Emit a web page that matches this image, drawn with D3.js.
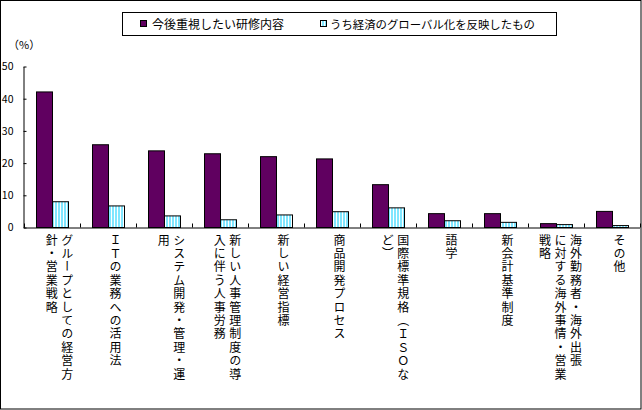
<!DOCTYPE html>
<html><head><meta charset="utf-8">
<script src="https://cdn.jsdelivr.net/npm/d3@7"></script>
<style>
body{margin:0;background:#fff}
svg{display:block}
text{font-family:"Noto Sans CJK JP","Noto Sans",sans-serif;fill:#000}
</style>
</head><body>
<svg id="chart" width="642" height="410"></svg>
<script>
// ---- data ----
const categories = [
  "グループとしての経営方\n針・営業戦略",
  "ＩＴの業務への活用法",
  "システム開発・管理・運\n用",
  "新しい人事管理制度の導\n入に伴う人事労務",
  "新しい経営指標",
  "商品開発プロセス",
  "国際標準規格（ＩＳＯな\nど）",
  "語学",
  "新会計基準制度",
  "海外勤務者・海外出張\nに対する海外事情・営業\n戦略",
  "その他"
];
const seriesNames = ["今後重視したい研修内容", "うち経済のグローバル化を反映したもの"];
const priorityValues = [42.1, 25.7, 23.8, 22.9, 22.0, 21.3, 13.3, 4.3, 4.3, 1.2, 5.0];
const globalValues   = [8.0, 6.7, 3.6, 2.4, 3.9, 4.9, 6.1, 2.1, 1.6, 0.9, 0.6];
const yTicks = [0, 10, 20, 30, 40, 50];
const yUnit = "（%）";

// ---- chart ----
const svg = d3.select("#chart");
const W = 642, H = 410;
const purple = "#600060", cyan = "#00CCFF";

svg.append("rect").attr("x", 0.5).attr("y", 0.5).attr("width", W - 1.5).attr("height", H - 1.5)
  .attr("fill", "#fff").attr("stroke", "#000");

const defs = svg.append("defs");
const pat = defs.append("pattern").attr("id", "stripe").attr("patternUnits", "userSpaceOnUse")
  .attr("width", 3).attr("height", 6).attr("x", 0.5);
pat.append("rect").attr("width", 3).attr("height", 6).attr("fill", "#fff");
pat.append("rect").attr("x", 1).attr("width", 1).attr("height", 6).attr("fill", cyan);

const x = d3.scaleBand().domain(categories).range([23.5, 639.5]).paddingInner(0).paddingOuter(0);
const xs = d3.scaleBand().domain([0, 1]).range([0, x.step()]).paddingInner(0).paddingOuter(0.75);
const y = d3.scaleLinear().domain([0, 50]).range([227.5, 66.5]);

const series = [priorityValues, globalValues];
const fills = [purple, "url(#stripe)"];

const g = svg.append("g");
series.forEach((vals, si) => {
  g.selectAll(null).data(vals).enter().append("rect")
    .attr("x", (d, i) => Math.round(x(categories[i]) + xs(si)) + 0.5)
    .attr("y", d => y(d))
    .attr("width", xs.bandwidth())
    .attr("height", d => y(0) - y(d))
    .attr("fill", fills[si])
    .attr("stroke", "#000").attr("stroke-width", 1);
});

// y axis
const yAxis = d3.axisLeft(y).tickValues(yTicks).tickSizeInner(-3).tickSizeOuter(0).tickPadding(10);
const ya = svg.append("g").attr("transform", "translate(23.5,0)").call(yAxis);
ya.selectAll("text").style("font-family", "'Noto Sans CJK JP',sans-serif").style("font-size", "10.5px").attr("fill", "#000");
ya.selectAll("line,path").attr("stroke", "#000");

// x axis
const xAxis = d3.axisBottom(x).tickSize(0).tickFormat("");
const xa = svg.append("g").attr("transform", `translate(0,${y(0)})`).call(xAxis);
xa.selectAll(".tick").remove();
xa.select("path").attr("stroke", "#000");
const bounds = categories.map(c => x(c)).concat([x.range()[1]]);
svg.append("g").selectAll("line").data(bounds).enter().append("line")
  .attr("x1", d => Math.round(d) + 0.5).attr("x2", d => Math.round(d) + 0.5)
  .attr("y1", y(0)).attr("y2", y(0) - 4).attr("stroke", "#000");

// category labels (vertical)
const lab = svg.append("g");
categories.forEach(c => {
  const lines = c.split("\n");
  const n = lines.length;
  const cx = x(c) + x.step() / 2 + (n === 3 ? 5 : 8);
  lines.forEach((ln, i) => {
    lab.append("text")
      .attr("x", cx + ((n - 1) / 2 - i) * 15.5)
      .attr("y", 234)
      .style("writing-mode", "vertical-rl")
      .style("font-size", "12px")
      .style("letter-spacing", "1.4px")
      .text(ln);
  });
});

// unit
svg.append("text").attr("x", 8).attr("y", 49).style("font-size", "11px").text(yUnit);

// legend
const lg = svg.append("g");
lg.append("rect").attr("x", 122.5).attr("y", 12.5).attr("width", 434).attr("height", 23)
  .attr("fill", "#fff").attr("stroke", "#000");
const legX = [140, 320], legTX = [152, 330];
seriesNames.forEach((s, i) => {
  lg.append("rect").attr("x", legX[i] + 0.5).attr("y", 20.5).attr("width", 6).attr("height", 6)
    .attr("fill", fills[i]).attr("stroke", "#000");
  lg.append("text").attr("x", legTX[i]).attr("y", 28.5).style("font-size", i ? "11.4px" : "12px").text(s);
});
</script>
</body></html>
